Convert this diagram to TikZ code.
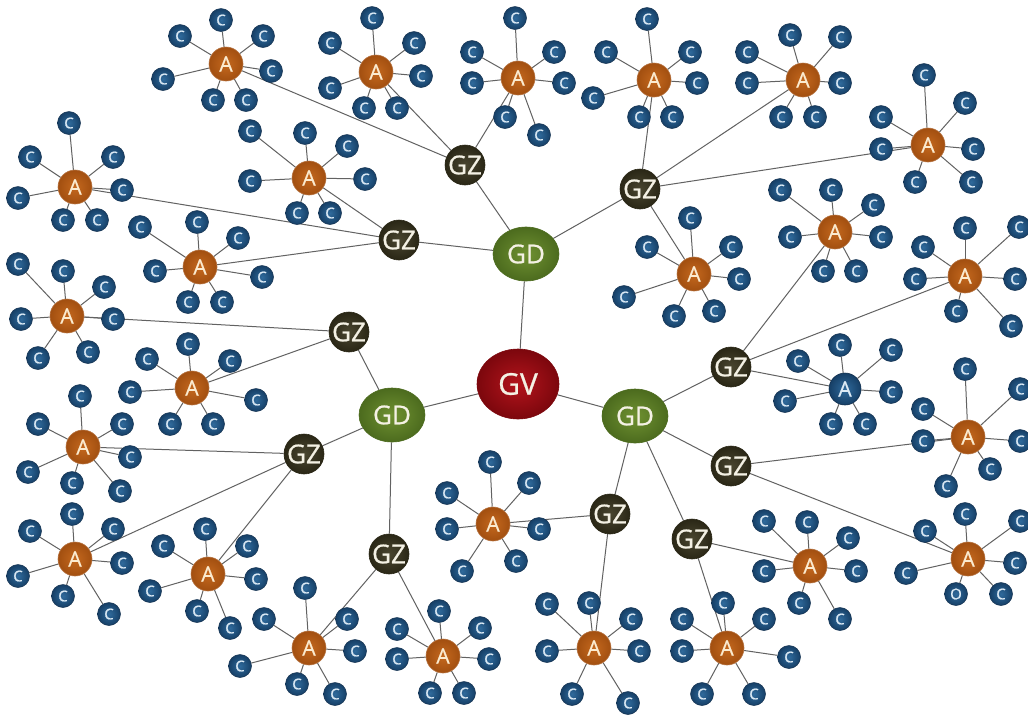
\documentclass[tikz,border=0pt]{standalone}
\usepackage{fontspec}
\setsansfont{Open Sans}
\newfontfamily\labelfont{Open Sans}[FakeBold=0.8]
\usetikzlibrary{shapes.geometric}
\pgfdeclarelayer{bg}
\pgfsetlayers{bg,main}

\definecolor{linkgray}{HTML}{626262}
\definecolor{cIn}{HTML}{2F6A9C}
\definecolor{cOut}{HTML}{163F66}
\definecolor{cEdge}{HTML}{12304F}
\definecolor{cText}{HTML}{DCEAF5}
\definecolor{aIn}{HTML}{C4681E}
\definecolor{aOut}{HTML}{A24F10}
\definecolor{aText}{HTML}{FBEBD0}
\definecolor{zIn}{HTML}{4A4630}
\definecolor{zOut}{HTML}{2A2716}
\definecolor{dIn}{HTML}{6F9131}
\definecolor{dOut}{HTML}{4C6B1E}
\definecolor{vIn}{HTML}{B3141C}
\definecolor{vOut}{HTML}{7C070D}
\definecolor{lightText}{HTML}{F4F1E4}

\tikzset{
  link/.style={draw=linkgray, line width=1pt},
  cnode/.style={circle, minimum size=23pt, inner sep=0pt,
    inner color=cIn, outer color=cOut, draw=cEdge, line width=0.5pt,
    text=cText, font=\labelfont\fontsize{15pt}{15pt}\selectfont},
  anode/.style={circle, minimum size=34pt, inner sep=0pt,
    inner color=aIn, outer color=aOut, draw=aOut!80!white, line width=0.6pt,
    text=aText, font=\labelfont\fontsize{21pt}{21pt}\selectfont},
  bluea/.style={anode, minimum size=32pt, inner color=cIn, outer color=cOut,
    draw=cEdge, text=cText},
  gznode/.style={circle, minimum size=40pt, inner sep=0pt,
    inner color=zIn, outer color=zOut, draw=zOut, line width=0.6pt,
    text=lightText, font=\labelfont\fontsize{26pt}{26pt}\selectfont},
  gdnode/.style={ellipse, minimum width=66pt, minimum height=54pt, inner sep=0pt,
    inner color=dIn, outer color=dOut, draw=dOut, line width=0.6pt,
    text=lightText, font=\labelfont\fontsize{26pt}{26pt}\selectfont},
  gvnode/.style={ellipse, minimum width=82pt, minimum height=70pt, inner sep=0pt,
    inner color=vIn, outer color=vOut, draw=vOut, line width=0.6pt,
    text=lightText, font=\labelfont\fontsize{30pt}{30pt}\selectfont},
}

% A star: a hub node with its ring of C nodes and spokes
\newcommand\starcluster[4][anode]{%
  \node[#1] (#2) at (#3) {A};
  \foreach \p [count=\k] in {#4} {
    \node[cnode] (#2c\k) at (\p) {C};
    \begin{pgfonlayer}{bg}\draw[link] (#2) -- (#2c\k);\end{pgfonlayer}
  }%
}

\begin{document}
\begin{tikzpicture}[x=1pt, y=-1pt]
\begin{pgfonlayer}{bg}
  \fill[white] (0,0) rectangle (1028,716);
\end{pgfonlayer}
\useasboundingbox (0,0) rectangle (1028,716);

% core
\node[gvnode] (gv) at (518,384) {GV};
\node[gdnode] (d1) at (526,254) {GD};
\node[gdnode] (d2) at (392,415) {GD};
\node[gdnode] (d3) at (635,416) {GD};

\node[gznode] (z1) at (465,165) {GZ};
\node[gznode] (z2) at (640,189) {GZ};
\node[gznode] (z3) at (399,240) {GZ};
\node[gznode] (z4) at (349,332) {GZ};
\node[gznode] (z5) at (304,454) {GZ};
\node[gznode] (z6) at (389,554) {GZ};
\node[gznode] (z7) at (610,514) {GZ};
\node[gznode] (z8) at (692,539) {GZ};
\node[gznode] (z9) at (731,466) {GZ};
\node[gznode] (z10) at (731,367) {GZ};

% stars
\starcluster{a1}{226,64}{{221,20},{180,36},{263,36},{163,79},{271,71},{213,100},{246,100}}
\starcluster{a2}{376,72}{{372,18},{330,43},{414,43},{421,76},{330,88},{364,108},{397,108}}
\starcluster{a3}{518,78}{{515,18},{472,52},{554,52},{472,83},{564,83},{505,117},{539,135}}
\starcluster{a4}{654,80}{{647,19},{606,52},{690,52},{697,83},{593,98},{639,117},{672,117}}
\starcluster{a5}{803,80}{{790,35},{840,37},{747,52},{840,83},{747,83},{781,117},{815,117}}
\starcluster{a6}{928,145}{{924,75},{965,103},{881,117},{881,149},{973,149},{915,182},{971,182}}
\starcluster{a7}{309,178}{{305,133},{347,146},{250,131},{365,179},{250,181},{297,213},{330,213}}
\starcluster{a8}{75,187}{{69,123},{30,157},{113,157},{122,190},{18,198},{63,220},{97,220}}
\starcluster{a9}{200,267}{{140,227},{197,222},{238,238},{155,271},{262,277},{188,302},{222,302}}
\starcluster{a10}{67,316}{{18,264},{63,271},{104,287},{21,319},{113,319},{38,358},{88,352}}
\starcluster{a11}{192,388}{{188,344},{147,359},{230,361},{130,392},{256,400},{170,424},{213,424}}
\starcluster{a12}{83,447}{{80,396},{38,424},{122,424},{130,457},{28,472},{72,483},{120,491}}
\starcluster{a13}{75,559}{{72,514},{30,531},{113,529},{122,563},{18,576},{63,596},{109,614}}
\starcluster{a14}{208,574}{{205,529},{163,546},{247,546},{256,579},{150,591},{197,611},{230,628}}
\starcluster{a15}{309,648}{{305,588},{264,619},{347,619},{355,651},{240,666},{297,684},{335,694}}
\starcluster{a16}{443,656}{{439,611},{397,629},{480,628},{397,659},{489,659},{430,693},{464,693}}
\starcluster{a17}{493,524}{{490,462},{447,493},{529,483},{447,529},{539,529},{462,571},{516,561}}
\starcluster{a18}{594,648}{{547,604},{589,603},{631,619},{547,651},{639,651},{572,694},{628,703}}
\starcluster{a19}{727,648}{{723,603},{682,619},{764,619},{682,651},{789,657},{702,694},{754,694}}
\starcluster{a20}{810,566}{{807,522},{764,521},{848,538},{764,571},{856,571},{799,603},{840,619}}
\starcluster{a21}{968,559}{{965,514},{925,531},{1020,521},{1015,563},{906,573},{1001,594}}
\node[cnode] (a21o) at (956,594) {O};
\starcluster{a22}{968,437}{{965,369},{1020,389},{923,409},{923,441},{1020,441},{990,469},{946,486}}
\starcluster[bluea]{a23}{845,389}{{840,345},{798,361},{891,350},{891,392},{785,401},{831,424},{865,424}}
\starcluster{a24}{965,276}{{965,228},{1019,227},{923,247},{915,279},{1015,279},{956,311},{1011,326}}
\starcluster{a25}{835,232}{{831,190},{780,190},{873,205},{790,237},{881,237},{823,271},{856,271}}
\starcluster{a26}{694,274}{{690,218},{647,247},{731,247},{739,279},{624,297},{674,316},{714,311}}

\begin{pgfonlayer}{bg}
  \draw[link] (a21) -- (a21o);
  % hubs to core
  \foreach \g in {d1,d2,d3} \draw[link] (gv) -- (\g);
  \foreach \z in {z1,z2,z3} \draw[link] (d1) -- (\z);
  \foreach \z in {z4,z5,z6} \draw[link] (d2) -- (\z);
  \foreach \z in {z7,z8,z9,z10} \draw[link] (d3) -- (\z);
  % stars to their GZ
  \foreach \a in {a1,a2,a3} \draw[link] (\a) -- (z1);
  \foreach \a in {a4,a5,a6,a26} \draw[link] (\a) -- (z2);
  \foreach \a in {a7,a8,a9} \draw[link] (\a) -- (z3);
  \foreach \a in {a10,a11} \draw[link] (\a) -- (z4);
  \foreach \a in {a12,a13,a14} \draw[link] (\a) -- (z5);
  \foreach \a in {a15,a16} \draw[link] (\a) -- (z6);
  \foreach \a in {a17,a18} \draw[link] (\a) -- (z7);
  \foreach \a in {a19,a20} \draw[link] (\a) -- (z8);
  \foreach \a in {a21,a22} \draw[link] (\a) -- (z9);
  \foreach \a in {a23,a24,a25} \draw[link] (\a) -- (z10);
\end{pgfonlayer}
\end{tikzpicture}
\end{document}
